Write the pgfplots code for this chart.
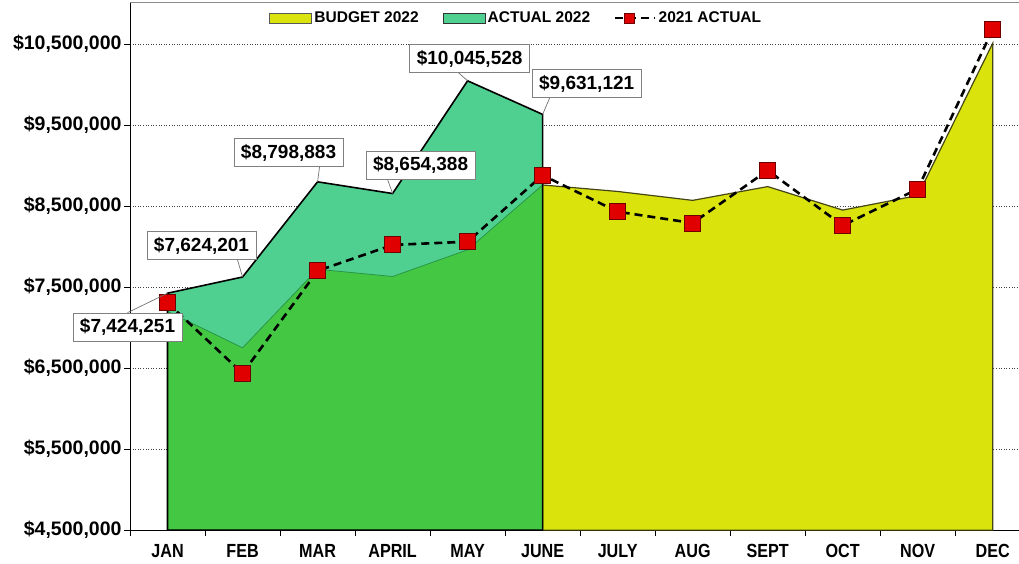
\documentclass[border=0pt]{standalone}
\usepackage{fontspec}
\setmainfont{Liberation Sans}
\newfontfamily\narrowfont[FakeStretch=0.85]{Liberation Sans}
\usepackage{pgfplots}
\pgfplotsset{compat=1.18}

\definecolor{budget}{RGB}{218,228,12}
\definecolor{budgetgreen}{RGB}{68,200,68}
\definecolor{actual}{RGB}{80,208,144}
\definecolor{mkred}{RGB}{225,0,0}
\definecolor{mkdark}{RGB}{110,0,0}

\tikzset{lbl/.style={draw=black!50, fill=white, line width=0.8pt,
  font=\bfseries\fontsize{19}{19}\selectfont, inner xsep=7pt, inner ysep=5.5pt},
  lead/.style={black!55, line width=0.7pt}}

\begin{document}
\begin{tikzpicture}
\begin{axis}[
  scale only axis, width=888.75pt, height=527pt,
  at={(0,0)}, anchor=south west,
  xmin=-0.5, xmax=11.35, ymin=4500000, ymax=11006000,
  axis x line*=bottom, axis y line*=left,
  axis line style={-, black, line width=0.8pt},
  xtick={0,1,2,3,4,5,6,7,8,9,10,11},
  xticklabels={JAN,FEB,MAR,APRIL,MAY,JUNE,JULY,AUG,SEPT,OCT,NOV,DEC},
  x tick label style={font=\narrowfont\bfseries\fontsize{19}{19}\selectfont, yshift=-5pt},
  major x tick style={draw=none},
  minor xtick={-0.5,0.5,1.5,2.5,3.5,4.5,5.5,6.5,7.5,8.5,9.5,10.5},
  ytick={4500000,5500000,6500000,7500000,8500000,9500000,10500000},
  yticklabels={{\$4,500,000},{\$5,500,000},{\$6,500,000},{\$7,500,000},{\$8,500,000},{\$9,500,000},{\$10,500,000}},
  y tick label style={font=\bfseries\fontsize{19.5}{19.5}\selectfont, xshift=1pt},
  scaled y ticks=false,
  ymajorgrids, grid style={black!75, line width=0.6pt, dash pattern=on 1pt off 1.6pt},
  tick align=outside, major tick length=6pt, minor tick length=6pt,
  tick style={black, line width=0.8pt},
  legend style={at={(0.4345,0.971)}, anchor=center, draw=none, fill=none,
    legend columns=3, font=\bfseries\fontsize{15.5}{15.5}\selectfont,
    /tikz/every even column/.append style={column sep=22pt}},
]
\addlegendimage{legend image code/.code={\draw[fill=budget, draw=black!65, line width=1pt] (0pt,-5pt) rectangle (42pt,5pt);}}
\addlegendentry{BUDGET 2022}
\addlegendimage{legend image code/.code={\draw[fill=actual, draw=black!80, line width=1pt] (0pt,-5pt) rectangle (42pt,5pt);}}
\addlegendentry{ACTUAL 2022}
\addlegendimage{legend image code/.code={
  \draw[black, line width=2.4pt, dash pattern=on 8pt off 5pt] (0pt,0pt) -- (40pt,0pt);
  \draw[fill=mkred, draw=mkdark, line width=0.8pt] (9pt,-5pt) rectangle (19pt,5pt);}}
\addlegendentry{2021 ACTUAL}

% budget, second half of the year
\addplot[fill=budget, draw={rgb,255:red,70;green,70;blue,20}, line width=1.2pt, forget plot]
  coordinates {(5,8760000)(6,8680000)(7,8570000)(8,8740000)(9,8450000)(10,8630000)(11,10510000)} \closedcycle;
% actual 2022
\addplot[fill=actual, draw=none, forget plot]
  coordinates {(0,7424251)(1,7624201)(2,8798883)(3,8654388)(4,10045528)(5,9631121)} \closedcycle;
% budget, first half of the year
\addplot[fill=budgetgreen, draw={rgb,255:red,40;green,150;blue,70}, line width=0.8pt, forget plot]
  coordinates {(0,7200000)(1,6750000)(2,7720000)(3,7630000)(4,7960000)(5,8760000)} \closedcycle;
% outline of actual 2022
\addplot[draw=black, line width=1.6pt, fill=none, forget plot]
  coordinates {(0,7424251)(1,7624201)(2,8798883)(3,8654388)(4,10045528)(5,9631121)} \closedcycle;
% 2021 actual
\addplot[black, line width=2.6pt, dash pattern=on 8pt off 5pt, mark=square*, mark size=8pt,
  mark options={solid, fill=mkred, draw=mkdark, line width=1pt}, forget plot]
  coordinates {(0,7306000)(1,6435000)(2,7700000)(3,8020000)(4,8060000)(5,8880000)
               (6,8430000)(7,8290000)(8,8940000)(9,8260000)(10,8710000)(11,10680000)};

\coordinate (L1) at (axis cs:-0.533,7006000);  \coordinate (P1) at (axis cs:0,7424251);
\coordinate (L2) at (axis cs:0.453,8012000);   \coordinate (P2) at (axis cs:1,7624201);
\coordinate (L3) at (axis cs:1.613,9160000);   \coordinate (P3) at (axis cs:2,8798883);
\coordinate (L4) at (axis cs:3.373,9006000);   \coordinate (P4) at (axis cs:3,8654388);
\coordinate (L5) at (axis cs:4.027,10321000);  \coordinate (P5) at (axis cs:4,10045528);
\coordinate (L6) at (axis cs:5.587,10012000);  \coordinate (P6) at (axis cs:5,9631121);
\end{axis}
\draw[black!45, line width=1pt] (current axis.north west) -- (current axis.north east);

\node[lbl] (n1) at (L1) {\$7,424,251};
\node[lbl] (n2) at (L2) {\$7,624,201};
\node[lbl] (n3) at (L3) {\$8,798,883};
\node[lbl] (n4) at (L4) {\$8,654,388};
\node[lbl] (n5) at (L5) {\$10,045,528};
\node[lbl] (n6) at (L6) {\$9,631,121};
\draw[lead] (n1.north) -- (P1);
\draw[lead] ([xshift=36pt]n2.south) -- (P2);
\draw[lead] ([xshift=31pt]n3.south) -- (P3);
\draw[lead] ([xshift=-33pt]n4.south) -- (P4);
\draw[lead] ([xshift=-11pt]n5.south) -- (P5);
\draw[lead] ([xshift=-37pt]n6.south) -- (P6);

\pgfresetboundingbox
\path (-130pt,-33pt) rectangle (888.75pt,530pt);
\end{tikzpicture}
\end{document}
